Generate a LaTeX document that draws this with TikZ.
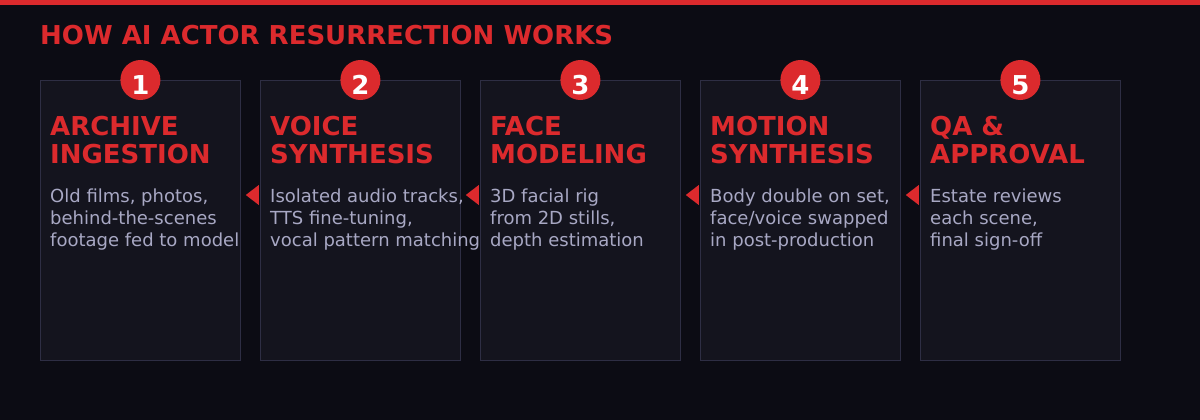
\documentclass[tikz,border=0pt]{standalone}
\usepackage{fontspec}
\setmainfont{DejaVu Sans}
\usetikzlibrary{arrows.meta}
\definecolor{bgdark}{HTML}{0C0C14}
\definecolor{cardfill}{HTML}{14141E}
\definecolor{cardline}{HTML}{2E2E44}
\definecolor{accent}{HTML}{DC2A2D}
\definecolor{bodygray}{HTML}{A8A8C4}
\tikzset{
  card/.style={draw=cardline,fill=cardfill,line width=0.8pt,anchor=north west,
    minimum width=200pt,minimum height=280pt,inner sep=0pt},
  badge/.style={circle,fill=accent,minimum size=40pt,inner sep=0pt,text=white,
    text height=29pt,text depth=0pt,font=\fontsize{26}{26}\selectfont\bfseries},
  heading/.style={anchor=north west,inner sep=0pt,align=left,text=accent,
    font=\fontsize{26}{28}\selectfont\bfseries},
  bodytext/.style={anchor=north west,inner sep=0pt,align=left,text=bodygray,
    font=\fontsize{18}{22}\selectfont},
  backarrow/.style={accent,line width=0pt,-{Triangle[length=13pt,width=20pt]},
    shorten <=2pt,shorten >=5pt}
}
\begin{document}
\begin{tikzpicture}[x=1pt,y=-1pt]
 \fill[bgdark] (0,0) rectangle (1200,420);
 \useasboundingbox (0,0) rectangle (1200,420);
 \fill[accent] (0,0) rectangle (1200,5);
 \node[anchor=base west,inner sep=0pt,text=accent,font=\fontsize{26}{26}\selectfont\bfseries]
   (title) at (40,45) {HOW AI ACTOR RESURRECTION WORKS};
 % cards
 \foreach \i/\head/\body [count=\n from 0] in {
   1/{ARCHIVE\\INGESTION}/{Old films, photos,\\behind-the-scenes\\footage fed to model},
   2/{VOICE\\SYNTHESIS}/{Isolated audio tracks,\\TTS fine-tuning,\\vocal pattern matching},
   3/{FACE\\MODELING}/{3D facial rig\\from 2D stills,\\depth estimation},
   4/{MOTION\\SYNTHESIS}/{Body double on set,\\face/voice swapped\\in post-production},
   5/{QA \&\\APPROVAL}/{Estate reviews\\each scene,\\final sign-off}} {
   \node[card] (card\i) at (40+220*\n,80) {};
   \node[badge] (num\i) at (card\i.north) {\i};
   \node[heading] (head\i) at (50+220*\n,116) {\head};
   \node[bodytext] (text\i) at (50+220*\n,189) {\body};
 }
 % arrows between cards
 \foreach \a/\b in {1/2,2/3,3/4,4/5}
   \draw[backarrow] ([yshift=-115pt]card\b.north west) -- ([yshift=-115pt]card\a.north east);
\end{tikzpicture}
\end{document}
